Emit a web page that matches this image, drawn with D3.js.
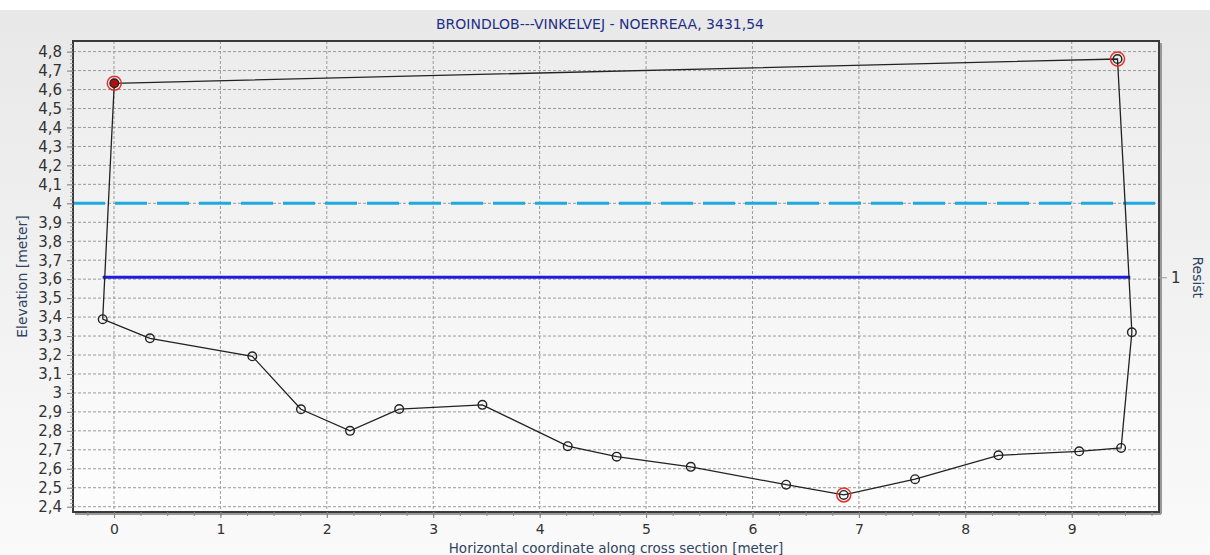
<!DOCTYPE html>
<html>
<head>
<meta charset="utf-8">
<script src="https://cdn.jsdelivr.net/npm/d3@7"></script>
<style>
  body { margin: 0; background: #fff; }
  text { font-family: "DejaVu Sans", Verdana, sans-serif; }
</style>
</head>
<body>
<script>
// Cross section data
const sectionX = [-0.106, 0.338, 1.30, 1.757, 2.218, 2.68, 3.462, 4.264, 4.724, 5.42, 6.316, 6.858, 7.528, 8.311, 9.07, 9.464, 9.565, 9.43, 0.003];
const sectionY = [3.389, 3.288, 3.193, 2.914, 2.80, 2.915, 2.937, 2.719, 2.664, 2.61, 2.516, 2.462, 2.545, 2.671, 2.692, 2.71, 3.32, 4.761, 4.633];
const markedPoints = [11, 17, 18];   // points with red ring
const filledPoint = 18;

const waterLevel = 4.0;
const resistLevel = 3.61;
const resistRange = [-0.106, 9.55];
const resistLabels = ["1"];

const xTicks = [0, 1, 2, 3, 4, 5, 6, 7, 8, 9];
const yTicks = d3.range(24, 49).map(d => d / 10);

const titleText = "BROINDLOB---VINKELVEJ - NOERREAA, 3431,54";

const width = 1210;
const height = 555;
const plot = { left: 73, top: 41, right: 1159, bottom: 512 };

const svg = d3.select("body")
    .append("svg")
    .attr("width", width)
    .attr("height", height);

const defs = svg.append("defs");
const bgGrad = defs.append("linearGradient").attr("id", "bg").attr("x1", 0).attr("y1", 0).attr("x2", 0).attr("y2", 1);
bgGrad.append("stop").attr("offset", "0%").attr("stop-color", "#e8e8e8");
bgGrad.append("stop").attr("offset", "100%").attr("stop-color", "#fafafa");
const plotGrad = defs.append("linearGradient").attr("id", "plotbg").attr("x1", 0).attr("y1", 0).attr("x2", 0).attr("y2", 1);
plotGrad.append("stop").attr("offset", "0%").attr("stop-color", "#ececec");
plotGrad.append("stop").attr("offset", "100%").attr("stop-color", "#fdfdfd");
defs.append("clipPath").attr("id", "clip")
    .append("rect")
    .attr("x", plot.left).attr("y", plot.top)
    .attr("width", plot.right - plot.left).attr("height", plot.bottom - plot.top);

// outer background
svg.append("rect").attr("x", 0).attr("y", 10).attr("width", width).attr("height", height - 10).attr("fill", "url(#bg)");

const x = d3.scaleLinear().domain([-0.385, 9.82]).range([plot.left, plot.right]);
const y = d3.scaleLinear().domain([2.372, 4.856]).range([plot.bottom, plot.top]);

// plot area
svg.append("rect")
    .attr("x", plot.left).attr("y", plot.top)
    .attr("width", plot.right - plot.left).attr("height", plot.bottom - plot.top)
    .attr("fill", "url(#plotbg)");

// grid
const grid = svg.append("g").attr("clip-path", "url(#clip)");
grid.selectAll(".vgrid").data(xTicks).enter().append("line")
    .attr("x1", d => x(d)).attr("x2", d => x(d))
    .attr("y1", plot.top).attr("y2", plot.bottom)
    .attr("stroke", "#9a9a9a").attr("stroke-dasharray", "3,2");
grid.selectAll(".hgrid").data(yTicks).enter().append("line")
    .attr("x1", plot.left).attr("x2", plot.right)
    .attr("y1", d => y(d)).attr("y2", d => y(d))
    .attr("stroke", "#9a9a9a").attr("stroke-dasharray", "3,2");

// water level (dashed) and resist line
grid.append("line")
    .attr("x1", plot.left).attr("x2", plot.right)
    .attr("y1", y(waterLevel)).attr("y2", y(waterLevel))
    .attr("stroke", "#1ea9df").attr("stroke-width", 3)
    .attr("stroke-dasharray", "32,10");
grid.append("line")
    .attr("x1", x(resistRange[0])).attr("x2", x(resistRange[1]))
    .attr("y1", y(resistLevel)).attr("y2", y(resistLevel))
    .attr("stroke", "#1c1ce0").attr("stroke-width", 3);

// cross section polygon
const pts = sectionX.map((d, i) => [d, sectionY[i]]);
const line = d3.line().x(d => x(d[0])).y(d => y(d[1]));
grid.append("path")
    .attr("d", line(pts.concat([pts[0]])))
    .attr("fill", "none")
    .attr("stroke", "#222")
    .attr("stroke-width", 1.3);

grid.selectAll(".ring").data(markedPoints).enter().append("circle")
    .attr("cx", i => x(sectionX[i])).attr("cy", i => y(sectionY[i]))
    .attr("r", 7)
    .attr("fill", "none")
    .attr("stroke", "#e8302a").attr("stroke-width", 1.5);

grid.selectAll(".pt").data(pts).enter().append("circle")
    .attr("cx", d => x(d[0])).attr("cy", d => y(d[1]))
    .attr("r", 4.3)
    .attr("fill", (d, i) => i === filledPoint ? "#b01010" : "none")
    .attr("stroke", "#222").attr("stroke-width", 1.4);

// frame with a bit of shadow on right/bottom
svg.append("line").attr("x1", plot.right + 2).attr("x2", plot.right + 2)
    .attr("y1", plot.top + 2).attr("y2", plot.bottom + 2).attr("stroke", "#999").attr("stroke-width", 2);
svg.append("line").attr("x1", plot.left + 2).attr("x2", plot.right + 2)
    .attr("y1", plot.bottom + 2).attr("y2", plot.bottom + 2).attr("stroke", "#999").attr("stroke-width", 2);
svg.append("rect")
    .attr("x", plot.left).attr("y", plot.top)
    .attr("width", plot.right - plot.left).attr("height", plot.bottom - plot.top)
    .attr("fill", "none").attr("stroke", "#3a3a3a").attr("stroke-width", 2);

// left axis
const fmt = d => String(+d.toFixed(1)).replace(".", ",");
const yAxis = d3.axisLeft(y).tickValues(yTicks).tickFormat(fmt).tickSize(6).tickPadding(5);
const yg = svg.append("g").attr("transform", `translate(${plot.left},0)`).call(yAxis);
yg.select(".domain").remove();
yg.selectAll(".tick line").attr("stroke", "#777");
yg.selectAll("text").attr("font-size", 15).attr("fill", "#333");
const yMinor = d3.axisLeft(y).tickValues(d3.range(120, 243).map(d => d / 50)).tickFormat("").tickSize(3);
const ymg = svg.append("g").attr("transform", `translate(${plot.left},0)`).call(yMinor);
ymg.select(".domain").remove();
ymg.selectAll(".tick line").attr("stroke", "#999");

// bottom axis
const xAxis = d3.axisBottom(x).tickValues(xTicks).tickFormat(d3.format("d")).tickSize(6).tickPadding(6);
const xg = svg.append("g").attr("transform", `translate(0,${plot.bottom})`).call(xAxis);
xg.select(".domain").remove();
xg.selectAll(".tick line").attr("stroke", "#777");
xg.selectAll("text").attr("font-size", 14).attr("fill", "#333");
const xMinor = d3.axisBottom(x).tickValues(d3.range(-1, 40).map(d => d / 4)).tickFormat("").tickSize(4);
const xmg = svg.append("g").attr("transform", `translate(0,${plot.bottom})`).call(xMinor);
xmg.select(".domain").remove();
xmg.selectAll(".tick line").attr("stroke", "#888");

// right axis (Resist)
const rAxis = d3.axisRight(y).tickValues([resistLevel]).tickFormat((d, i) => resistLabels[i]).tickSize(8).tickPadding(4);
const rg = svg.append("g").attr("transform", `translate(${plot.right},0)`).call(rAxis);
rg.select(".domain").remove();
rg.selectAll(".tick line").attr("stroke", "#999");
rg.selectAll("text").attr("font-size", 15).attr("fill", "#333");

// titles
svg.append("text")
    .attr("x", 600).attr("y", 29)
    .attr("text-anchor", "middle")
    .attr("font-size", 14).attr("fill", "#1f2f86")
    .text(titleText);

svg.append("text")
    .attr("transform", `translate(27,${(plot.top + plot.bottom) / 2}) rotate(-90)`)
    .attr("text-anchor", "middle")
    .attr("font-size", 14).attr("fill", "#2e4463")
    .text("Elevation [meter]");

svg.append("text")
    .attr("x", (plot.left + plot.right) / 2).attr("y", 553)
    .attr("text-anchor", "middle")
    .attr("font-size", 13.5).attr("fill", "#2e4463")
    .text("Horizontal coordinate along cross section [meter]");

svg.append("text")
    .attr("transform", `translate(1193,${y(resistLevel)}) rotate(90)`)
    .attr("text-anchor", "middle")
    .attr("font-size", 14).attr("fill", "#2e4463")
    .text("Resist");
</script>
</body>
</html>
